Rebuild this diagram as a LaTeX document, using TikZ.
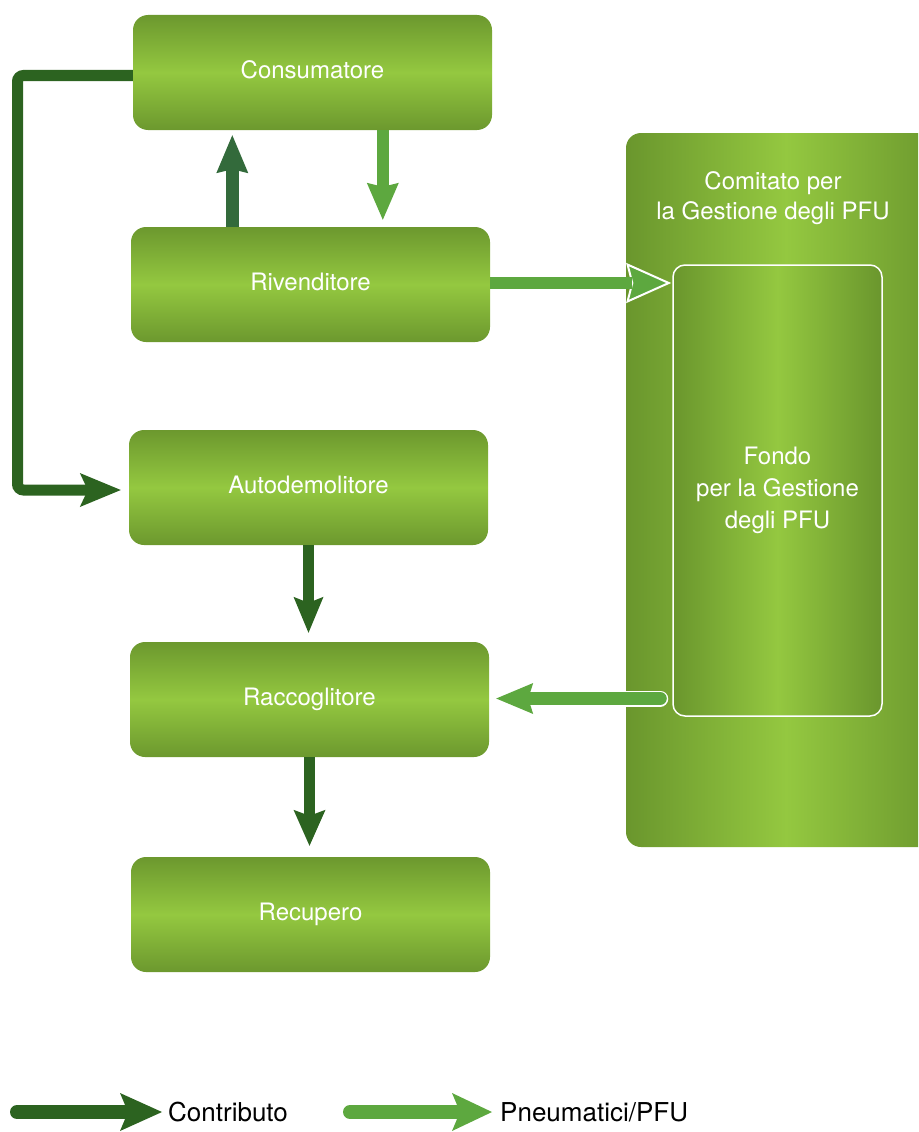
\documentclass[tikz,border=0pt]{standalone}
\usepackage{fontspec}
\setmainfont{TeX Gyre Heros}
\usetikzlibrary{arrows.meta,calc}
\definecolor{boxdark}{RGB}{108,152,46}
\definecolor{boxlight}{RGB}{148,200,64}
\definecolor{sidedark}{RGB}{106,150,45}
\definecolor{contrib}{RGB}{44,99,32}
\definecolor{contribup}{RGB}{51,106,59}
\definecolor{pfu}{RGB}{93,168,63}
\begin{document}
\begin{tikzpicture}[x=1pt,y=-1pt,
  stagebox/.style={rounded corners=15pt, minimum width=359pt, minimum height=115pt,
    inner sep=0pt, top color=boxdark, bottom color=boxdark, middle color=boxlight,
    text=white, font=\fontsize{24}{30}\selectfont, text height=17pt, text depth=6pt},
  sidebox/.style={rounded corners=15pt, inner sep=0pt, left color=sidedark,
    right color=sidedark, middle color=boxlight},
  contribline/.style={draw=contrib, line width=11pt},
  pfuline/.style={draw=pfu, line width=12pt},
  legtext/.style={anchor=west, inner sep=0pt, text=black, font=\fontsize{26}{30}\selectfont}
]
\useasboundingbox (0,0) rectangle (918,1132);

% committee panel (clipped at right page edge)
\begin{scope}
\clip (0,0) rectangle (918,1132);
\node[sidebox, minimum width=320pt, minimum height=714pt] (comitato) at (786,490) {};
\end{scope}
\node[text=white, align=center, font=\fontsize{24}{30}\selectfont] (comtitle) at (773,198)
  {Comitato per\\la Gestione degli PFU};
\node[sidebox, rounded corners=12pt, draw=white, line width=1.5pt,
  minimum width=209pt, minimum height=451pt, text=white, align=center,
  font=\fontsize{24}{32}\selectfont] (fondo) at (777.5,490.5)
  {Fondo\\per la Gestione\\degli PFU};

% stages
\node[stagebox] (cons) at (312.5,72.5) {Consumatore};
\node[stagebox] (riv)  at (310.5,284.5) {Rivenditore};
\node[stagebox] (auto) at (308.5,487.5) {Autodemolitore};
\node[stagebox] (racc) at (309.5,699.5) {Raccoglitore};
\node[stagebox] (rec)  at (310.5,914.5) {Recupero};

% Consumatore -> Autodemolitore (contributo)
\coordinate (bendtop) at (17.5,75.5);
\coordinate (bendbot) at (17.5,490);
\draw[contribline, rounded corners=6pt, shorten >=8pt,
  -{Stealth[length=41pt,width=34pt,inset=8pt,line width=0pt]}]
  ($(cons.west)+(0,3)$) -- (bendtop) -- (bendbot) -- ($(auto.west)+(0,2.5)$);

% Rivenditore -> Consumatore (contributo, up)
\draw[draw=contribup, line width=13pt, shorten >=5pt,
  -{Stealth[length=38pt,width=32pt,inset=4pt,line width=0pt]}]
  ($(riv.north west)+(101.5,0)$) -- ($(cons.south west)+(99.5,0)$);

% Consumatore -> Rivenditore (pneumatici)
\draw[pfuline, shorten >=7pt,
  -{Stealth[length=37pt,width=32pt,inset=4pt,line width=0pt]}]
  ($(cons.south west)+(250,0)$) -- ($(riv.north west)+(252,0)$);

% Rivenditore -> Fondo (pneumatici, white outlined head)
\draw[pfuline, shorten >=1pt,
  -{Stealth[length=45pt,width=40pt,inset=5pt,line width=2pt,color=white,fill=pfu]}]
  ($(riv.east)+(0,-1.5)$) -- ($(riv.east -| fondo.west)+(0,-1.5)$);
\draw[pfuline]
  ($(riv.east)+(0,-1.5)$) -- ($(riv.east -| fondo.west)+(-40,-1.5)$);

% Autodemolitore -> Raccoglitore
\draw[contribline, shorten >=9pt,
  -{Stealth[length=36pt,width=30pt,inset=6pt,line width=0pt]}]
  (auto.south) -- (auto.south |- racc.north);

% Fondo -> Raccoglitore (white outlined shaft)
\coordinate (fondoout) at ($(racc.east -| fondo.west)+(-12,-1)$);
\draw[draw=white, line width=16pt, line cap=round, shorten >=40pt]
  (fondoout) -- ($(racc.east)+(0,-1)$);
\draw[draw=pfu, line width=13pt, line cap=round, shorten >=7pt,
  -{Stealth[length=37pt,width=31pt,inset=5pt,line width=0pt]}]
  (fondoout) -- ($(racc.east)+(0,-1)$);

% Raccoglitore -> Recupero
\draw[contribline, shorten >=11pt,
  -{Stealth[length=36pt,width=32pt,inset=6pt,line width=0pt]}]
  (racc.south) -- (racc.south |- rec.north);

% legend
\node[legtext] (legc) at (168,1112) {Contributo};
\node[legtext] (legp) at (500,1112) {Pneumatici/PFU};
\coordinate (legcstart) at (17,1112);
\coordinate (legpstart) at (350,1112);
\draw[draw=contrib, line width=14pt, line cap=round, shorten >=6pt,
  -{Stealth[length=42pt,width=38pt,inset=8pt,line width=0pt]}]
  (legcstart) -- (legc.west);
\draw[draw=pfu, line width=14pt, line cap=round, shorten >=8pt,
  -{Stealth[length=40pt,width=38pt,inset=8pt,line width=0pt]}]
  (legpstart) -- (legp.west);
\end{tikzpicture}
\end{document}
